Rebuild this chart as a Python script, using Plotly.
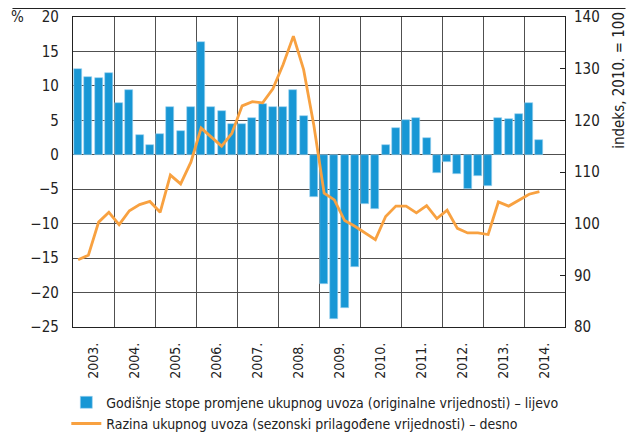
import plotly.graph_objects as go

YEARS = list(range(2003, 2015))
YEAR_LABELS = [f"{y}." for y in YEARS]

# quarterly, 2003 Q1 .. 2014 Q2
QUARTERS = [(y, q) for y in YEARS for q in (1, 2, 3, 4)][:46]

GROWTH = [12.5, 11.3, 11.2, 11.9, 7.5, 9.4, 2.9, 1.4, 3.0, 7.0, 3.4, 7.0,
          16.4, 7.0, 6.4, 4.4, 4.5, 5.4, 7.3, 6.9, 6.9, 9.4, 5.6, -6.1,
          -18.8, -23.9, -22.2, -16.3, -7.2, -7.9, 1.4, 3.9, 5.1, 5.3, 2.4, -2.6,
          -1.0, -2.8, -5.0, -3.1, -4.5, 5.3, 5.2, 5.9, 7.5, 2.1]

LEVEL = [93.0, 93.9, 100.3, 102.2, 99.8, 102.5, 103.7, 104.3, 102.2, 109.4, 107.7, 111.9,
         118.5, 116.7, 115.0, 117.5, 122.8, 123.6, 123.4, 126.1, 130.8, 136.3, 129.8, 119.0,
         105.9, 104.6, 100.6, 99.5, 98.2, 96.9, 101.4, 103.4, 103.4, 102.1, 103.5, 101.0,
         102.6, 99.1, 98.2, 98.2, 97.9, 104.2, 103.4, 104.5, 105.7, 106.2]

BAR_NAME = "Godišnje stope promjene ukupnog uvoza (originalne vrijednosti) – lijevo"
LINE_NAME = "Razina ukupnog uvoza (sezonski prilagođene vrijednosti) – desno"

FONT = "DejaVu Sans Condensed, sans-serif"
BLUE = "#1897d5"
ORANGE = "#f8a140"
GRID = "#505050"

x = [y + (q - 0.5) / 4 for y, q in QUARTERS]

fig = go.Figure()
fig.add_trace(go.Bar(
    x=x, y=GROWTH, name=BAR_NAME, width=0.19,
    marker=dict(color=BLUE, line=dict(color="#9fd3f0", width=0.6)),
))
fig.add_trace(go.Scatter(
    x=x, y=LEVEL, name=LINE_NAME, yaxis="y2", mode="lines",
    line=dict(color=ORANGE, width=2.8),
))

# the page body has an 8px margin, so the figure is sized to fit the window
fig.update_layout(
    width=628, height=426,
    margin=dict(l=65, r=71, t=9, b=107, autoexpand=False),
    paper_bgcolor="white", plot_bgcolor="white",
    font=dict(family=FONT, size=15, color="#222"),
    showlegend=True,
    legend=dict(x=-0.0136, y=-0.1926, xanchor="left", yanchor="top",
                font=dict(size=14), tracegroupgap=0, itemwidth=30),
    bargap=0,
    xaxis=dict(
        range=[2003, 2015], automargin=False,
        tickmode="array", tickvals=[y + 0.5 for y in YEARS], ticktext=YEAR_LABELS,
        tickangle=-90, ticks="", showgrid=False, ticklabelstandoff=9,
        showline=True, linecolor="#222", linewidth=1.3, mirror=True,
        minor=dict(tickmode="array", tickvals=YEARS[1:], showgrid=True,
                   gridcolor=GRID, gridwidth=1),
        tickfont=dict(size=14),
    ),
    yaxis=dict(
        range=[-25, 20], dtick=5, showgrid=True, gridcolor=GRID, gridwidth=1,
        zeroline=False, showline=True, linecolor="#222", linewidth=1.3, mirror=True,
        ticks="", ticklabelstandoff=10, tickfont=dict(size=15), automargin=False,
    ),
    yaxis2=dict(
        range=[80, 140], dtick=10, overlaying="y", side="right",
        showgrid=False, zeroline=False, ticks="inside", ticklen=5,
        tickcolor="#222", ticklabelstandoff=8, tickfont=dict(size=15),
        automargin=False,
    ),
    annotations=[
        dict(text="%", xref="paper", yref="paper", x=-0.113, y=1.0,
             xanchor="center", yanchor="middle", showarrow=False,
             font=dict(size=15)),
        dict(text="indeks, 2010. = 100", xref="paper", yref="paper",
             x=1.111, y=1.0235, xanchor="center", yanchor="top",
             textangle=-90, showarrow=False, font=dict(size=15)),
    ],
    shapes=[
        dict(type="line", xref="paper", yref="paper", x0=-0.123, x1=1.123,
             y0=1.028, y1=1.028, line=dict(color="#222", width=1.2)),
    ],
)

fig.write_html("out.html")
